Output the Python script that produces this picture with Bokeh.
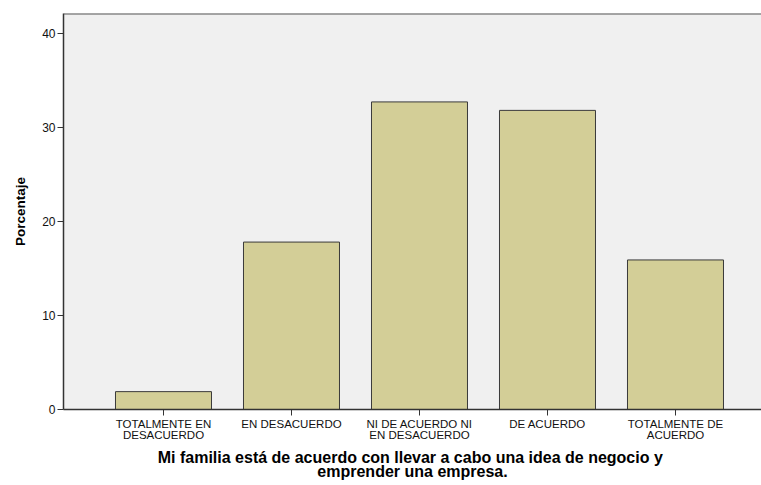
from bokeh.plotting import figure
from bokeh.models import Range1d, FixedTicker, Span
from bokeh.embed import file_html
from bokeh.resources import INLINE

categories = ["TOTALMENTE EN\nDESACUERDO", "EN DESACUERDO", "NI DE ACUERDO NI\nEN DESACUERDO",
              "DE ACUERDO", "TOTALMENTE DE\nACUERDO"]
porcentaje = [1.9, 17.8, 32.7, 31.8, 15.9]
y_ticks = [0, 10, 20, 30, 40]

xs = list(range(1, len(categories) + 1))
y_top = 42.1

p = figure(width=761, height=485, output_backend="svg", toolbar_location=None,
           x_range=Range1d(0.21875, 5.6719), y_range=Range1d(0, y_top),
           min_border_left=63, min_border_right=0, min_border_top=13, min_border_bottom=76)

p.vbar(x=xs, top=porcentaje, width=0.75, bottom=0,
       fill_color="#d3ce97", line_color="#3a3a3a", line_width=1)

p.background_fill_color = "#f0f0f0"
p.border_fill_color = "white"
p.outline_line_color = None
p.add_layout(Span(location=y_top, dimension="width", line_color="#555555", line_width=2))
p.xgrid.visible = False
p.ygrid.visible = False

font = "Liberation Sans"

p.xaxis.ticker = FixedTicker(ticks=xs)
p.xaxis.major_label_overrides = {x: c for x, c in zip(xs, categories)}
p.xaxis.major_label_text_font = font
p.xaxis.major_label_text_font_size = "11.5px"
p.xaxis.major_label_text_line_height = 0.95
p.xaxis.major_label_text_color = "#111111"
p.xaxis.major_label_standoff = 2
p.xaxis.major_tick_in = 0
p.xaxis.major_tick_out = 6
p.xaxis.minor_tick_line_color = None
p.xaxis.axis_line_color = "#333333"
p.xaxis.axis_line_width = 1.5
p.xaxis.major_tick_line_color = "#333333"
p.xaxis.axis_label = "Mi familia  está de acuerdo con llevar a cabo una idea de negocio y\nemprender una empresa."
p.xaxis.axis_label_text_font = font
p.xaxis.axis_label_text_font_style = "bold"
p.xaxis.axis_label_text_font_size = "16px"
p.xaxis.axis_label_text_color = "#000000"
p.xaxis.axis_label_standoff = 5
p.xaxis.axis_label_text_line_height = 0.82

p.yaxis.ticker = FixedTicker(ticks=y_ticks)
p.yaxis.major_label_text_font = font
p.yaxis.major_label_text_font_size = "12px"
p.yaxis.major_label_text_color = "#111111"
p.yaxis.major_label_standoff = 2
p.yaxis.major_tick_in = 0
p.yaxis.major_tick_out = 6
p.yaxis.minor_tick_line_color = None
p.yaxis.axis_line_color = "#333333"
p.yaxis.axis_line_width = 1.5
p.yaxis.major_tick_line_color = "#333333"
p.yaxis.axis_label = "Porcentaje"
p.yaxis.axis_label_text_font = font
p.yaxis.axis_label_text_font_style = "bold"
p.yaxis.axis_label_text_font_size = "13.5px"
p.yaxis.axis_label_text_color = "#000000"
p.yaxis.axis_label_standoff = 11

open("out.html", "w").write(file_html(p, INLINE))
